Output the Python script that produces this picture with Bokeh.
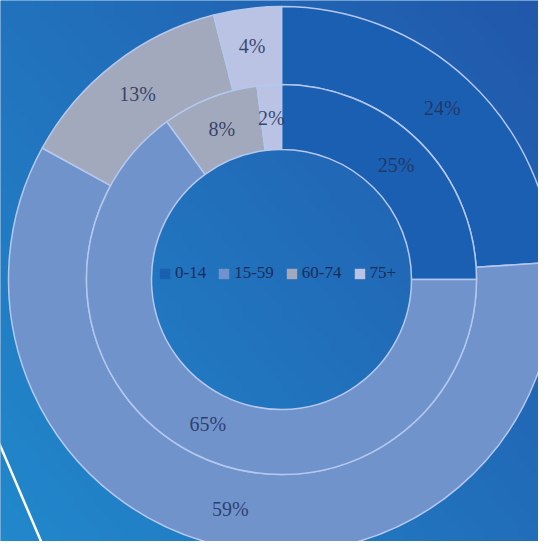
import numpy as np
from bokeh.plotting import figure
from bokeh.models import Range1d, ColumnDataSource
from bokeh.core.properties import value
from bokeh.embed import file_html
from bokeh.resources import INLINE

# ---- data ----
groups = ["0-14", "15-59", "60-74", "75+"]
outer_pct = [24, 59, 13, 4]
inner_pct = [25, 65, 8, 2]
colors = ["#1b5fb2", "#7093cc", "#a2a9bd", "#bac3e3"]

W, H = 538, 541
cx, cy = 281, 262
r_hole, r_mid, r_out = 130, 195, 273
r_lab_in, r_lab_out = 162, 235

p = figure(width=W, height=H, x_range=Range1d(0, W), y_range=Range1d(0, H),
           output_backend="svg", toolbar_location=None, min_border=0)
p.axis.visible = False
p.grid.visible = False
p.outline_line_color = None
p.background_fill_color = "#1f72c0"
p.border_fill_color = "#1f72c0"

# background gradient (decoration)
n = 80
xs = np.linspace(0, 1, n)[None, :]
ys = np.linspace(0, 1, n)[:, None]
u = np.clip(0.55 * xs + 0.45 * ys, 0, 1)
c_bl = np.array([0x22, 0x88, 0xcc])
c_tr = np.array([0x21, 0x58, 0xab])
rgb = (c_bl[None, None, :] * (1 - u[..., None]) + c_tr[None, None, :] * u[..., None]).astype(np.uint8)
img = np.empty((n, n), dtype=np.uint32)
view = img.view(dtype=np.uint8).reshape((n, n, 4))
view[..., 0] = rgb[..., 0]
view[..., 1] = rgb[..., 1]
view[..., 2] = rgb[..., 2]
view[..., 3] = 255
p.image_rgba(image=[img], x=0, y=0, dw=W, dh=H)

# decorative white stripe at bottom-left
p.line(x=[-8, 44], y=[114, -8], line_color="white", line_width=2.5)


def ring(pcts):
    frac = np.array(pcts, dtype=float) / sum(pcts)
    cum = np.cumsum(frac)
    prev = cum - frac
    start = np.pi / 2 - 2 * np.pi * prev
    end = np.pi / 2 - 2 * np.pi * cum
    mid = (start + end) / 2
    return start, end, mid


def add_ring(pcts, r0, r1, rl, legend=False):
    start, end, mid = ring(pcts)
    src = ColumnDataSource(dict(start=start, end=end, color=colors, group=groups,
                                lx=cx + rl * np.cos(mid), ly=cy + rl * np.sin(mid),
                                lab=[f"{v}%" for v in pcts]))
    if legend:
        # fill-only copy that carries the legend swatches (no outline)
        p.annular_wedge(x=cx, y=cy, inner_radius=r0, outer_radius=r1,
                        start_angle="start", end_angle="end", direction="clock",
                        fill_color="color", line_color=None,
                        source=src, legend_field="group")
    p.annular_wedge(x=cx, y=cy, inner_radius=r0, outer_radius=r1,
                    start_angle="start", end_angle="end", direction="clock",
                    fill_color="color", line_color="#b4c8ee", line_width=1.5,
                    source=src)
    p.text(x="lx", y="ly", text="lab", source=src, text_align="center",
           text_baseline="middle", text_font=value("Liberation Serif"),
           text_font_size="20px", text_color="#243058", text_alpha=0.85)


add_ring(outer_pct, r_mid, r_out, r_lab_out)
add_ring(inner_pct, r_hole, r_mid, r_lab_in, legend=True)

lg = p.legend[0]
lg.location = (158, 258)
lg.orientation = "horizontal"
lg.background_fill_alpha = 0
lg.border_line_alpha = 0
lg.padding = 0
lg.margin = 0
lg.spacing = 11
lg.glyph_width = 13
lg.glyph_height = 13
lg.label_height = 15
lg.label_standoff = 4
lg.label_text_font = "Liberation Serif"
lg.label_text_font_size = "17px"
lg.label_text_color = "#1c2c5a"

open("out.html", "w").write(file_html(p, INLINE))
